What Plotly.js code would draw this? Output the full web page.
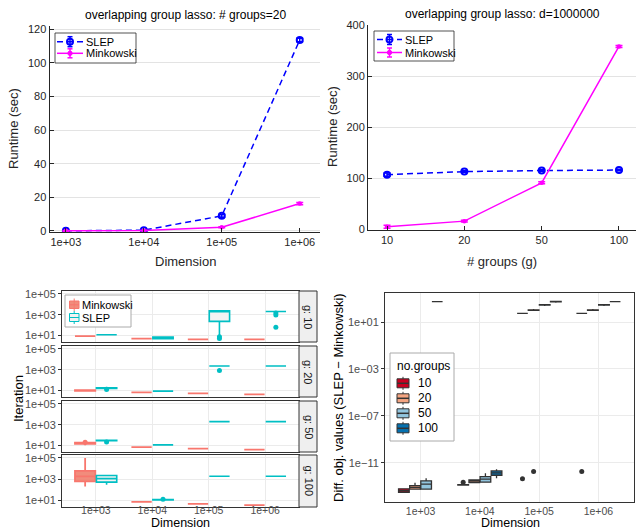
<!DOCTYPE html>
<html><head><meta charset="utf-8">
<script src="https://cdn.plot.ly/plotly-3.0.1.min.js"></script>
<style>html,body{margin:0;padding:0;background:#fff}#chart{width:637px;height:531px}</style>
</head><body><div id="chart"></div>
<script>
// ---------- Top-left: runtime vs dimension (# groups = 20) ----------
const dimLabels = ['1e+03','1e+04','1e+05','1e+06'];
const slepRuntimeDim = [0.1, 0.5, 9.0, 113.5];
const slepRuntimeDimErr = [0.3, 0.3, 0.8, 1.0];
const minkRuntimeDim = [0.1, 0.3, 2.2, 16.3];
const minkRuntimeDimErr = [0.2, 0.2, 0.3, 0.7];
// ---------- Top-right: runtime vs # groups (d = 1e6) ----------
const groupLabels = ['10','20','50','100'];
const slepRuntimeG = [107, 113, 115, 116];
const slepRuntimeGErr = [3, 1.5, 1.5, 1.5];
const minkRuntimeG = [5, 16, 91, 358];
const minkRuntimeGErr = [3, 1.5, 2, 2];
// ---------- Bottom-left: log10(iterations), rows g=10,20,50,100; cols dim 1e3..1e6 ----------
const facetLabels = ['g: 10','g: 20','g: 50','g: 100'];
const minkMed = [[0.94,0.69,0.62,0.62],[1.00,0.81,0.71,0.62],[1.22,0.84,0.69,0.59],[3.27,0.86,0.67,0.54]];
const minkQ1  = [[0.94,0.69,0.62,0.62],[0.97,0.81,0.71,0.62],[1.16,0.84,0.69,0.59],[2.79,0.86,0.67,0.54]];
const minkQ3  = [[0.94,0.69,0.62,0.62],[1.03,0.81,0.71,0.62],[1.28,0.84,0.69,0.59],[3.79,0.86,0.67,0.54]];
const minkLo  = [[0.94,0.69,0.62,0.62],[0.90,0.81,0.71,0.62],[1.02,0.84,0.69,0.59],[2.30,0.86,0.67,0.54]];
const minkHi  = [[0.94,0.69,0.62,0.62],[1.12,0.81,0.71,0.62],[1.42,0.84,0.69,0.59],[5.00,0.86,0.67,0.54]];
const slepMed = [[1.07,0.77,3.38,3.31],[1.23,0.94,3.36,3.36],[1.48,1.06,3.29,3.29],[3.05,1.06,3.27,3.27]];
const slepQ1  = [[1.07,0.69,2.36,3.31],[1.20,0.94,3.36,3.36],[1.46,1.06,3.29,3.29],[2.72,1.04,3.27,3.27]];
const slepQ3  = [[1.07,0.85,3.38,3.31],[1.26,0.94,3.36,3.36],[1.50,1.06,3.29,3.29],[3.34,1.08,3.27,3.27]];
const slepLo  = [[1.07,0.69,0.85,3.31],[1.05,0.94,3.36,3.36],[1.46,1.06,3.29,3.29],[2.46,0.98,3.27,3.27]];
const slepHi  = [[1.07,0.85,3.38,3.31],[1.35,0.94,3.36,3.36],[1.50,1.06,3.29,3.29],[3.34,1.14,3.27,3.27]];
const slepOutRow = [0, 0, 0, 0, 0, 1, 1, 2, 3];
const slepOutDim = [3, 3, 4, 4, 4, 1, 3, 1, 2];
const slepOutLog = [0.88, 0.70, 3.16, 2.97, 1.79, 1.10, 2.91, 1.33, 1.10];
const minkOutRow = [2];
const minkOutDim = [1];
const minkOutLog = [1.30];
// ---------- Bottom-right: log10(SLEP - Minkowski objective), by no.groups ----------
const groupNames = ['10','20','50','100'];
const diffMed = [[-13.36,-12.87,1.74,1.74],[-13.09,-12.56,2.02,2.02],[-12.81,-12.39,2.45,2.45],[2.73,-11.85,2.73,2.73]];
const diffQ1  = [[-13.50,-12.89,1.74,1.74],[-13.24,-12.68,2.00,2.00],[-13.24,-12.64,2.43,2.43],[2.73,-12.05,2.71,2.73]];
const diffQ3  = [[-13.21,-12.85,1.74,1.74],[-12.93,-12.45,2.04,2.04],[-12.53,-12.17,2.47,2.47],[2.73,-11.68,2.75,2.73]];
const diffLo  = [[-13.53,-12.89,1.74,1.74],[-13.24,-12.68,1.94,1.94],[-13.24,-12.64,2.37,2.37],[2.73,-12.30,2.65,2.73]];
const diffHi  = [[-13.15,-12.85,1.74,1.74],[-12.68,-12.45,2.10,2.10],[-12.30,-11.88,2.53,2.53],[2.73,-11.54,2.81,2.73]];
const diffOutGroup = [0, 0, 0, 1];
const diffOutDim = [2, 3, 4, 3];
const diffOutLog = [-12.64, -12.34, -11.74, -11.74];

const FONT = 'Liberation Sans, Arial, Helvetica, sans-serif';
const W = 637, H = 531;
const X = p => p / W, Y = p => 1 - p / H;
const pow = a => a.map(v => Math.pow(10, v));
const dims = [1, 2, 3, 4];
const BLUE = '#0000FF', MAG = '#FF00FF';
const MINK = '#F8766D', SLEP = '#00BFC4';
const groupFill = ['#CA0020', '#F4A582', '#92C5DE', '#0571B0'];

const traces = [];
// top-left
traces.push({type:'scatter', mode:'lines+markers', x:dims, y:slepRuntimeDim, xaxis:'x', yaxis:'y',
  line:{color:BLUE, width:1.5, dash:'6px,4px'}, marker:{symbol:'circle-open', size:6, color:BLUE, line:{width:2}},
  error_y:{type:'data', array:slepRuntimeDimErr, color:BLUE, thickness:1.5, width:3.5}, showlegend:false, hoverinfo:'skip'});
traces.push({type:'scatter', mode:'lines+markers', x:dims, y:minkRuntimeDim, xaxis:'x', yaxis:'y',
  line:{color:MAG, width:1.5}, marker:{symbol:'circle', size:4.5, color:MAG},
  error_y:{type:'data', array:minkRuntimeDimErr, color:MAG, thickness:1.5, width:3.5}, showlegend:false, hoverinfo:'skip'});
// top-right
traces.push({type:'scatter', mode:'lines+markers', x:dims, y:slepRuntimeG, xaxis:'x2', yaxis:'y2',
  line:{color:BLUE, width:1.5, dash:'6px,4px'}, marker:{symbol:'circle-open', size:6, color:BLUE, line:{width:2}},
  error_y:{type:'data', array:slepRuntimeGErr, color:BLUE, thickness:1.5, width:3.5}, showlegend:false, hoverinfo:'skip'});
traces.push({type:'scatter', mode:'lines+markers', x:dims, y:minkRuntimeG, xaxis:'x2', yaxis:'y2',
  line:{color:MAG, width:1.5}, marker:{symbol:'circle', size:4.5, color:MAG},
  error_y:{type:'data', array:minkRuntimeGErr, color:MAG, thickness:1.5, width:3.5}, showlegend:false, hoverinfo:'skip'});

// bottom-left facets
for (let r = 0; r < 4; r++) {
  const xa = 'x' + (3 + r), ya = 'y' + (3 + r);
  traces.push({type:'box', xaxis:xa, yaxis:ya, x:dims.map(d => d - 0.19),
    q1:pow(minkQ1[r]), median:pow(minkMed[r]), q3:pow(minkQ3[r]), lowerfence:pow(minkLo[r]), upperfence:pow(minkHi[r]),
    width:0.36, fillcolor:'rgba(240,128,110,0.9)', line:{color:MINK, width:1.8}, whiskerwidth:0, boxpoints:false, showlegend:false, hoverinfo:'skip'});
  traces.push({type:'box', xaxis:xa, yaxis:ya, x:dims.map(d => d + 0.19),
    q1:pow(slepQ1[r]), median:pow(slepMed[r]), q3:pow(slepQ3[r]), lowerfence:pow(slepLo[r]), upperfence:pow(slepHi[r]),
    width:0.36, fillcolor:'rgba(242,242,242,0.95)', line:{color:SLEP, width:1.6}, whiskerwidth:0, boxpoints:false, showlegend:false, hoverinfo:'skip'});
  const si = slepOutRow.map((v, i) => v === r ? i : -1).filter(i => i >= 0);
  if (si.length) traces.push({type:'scatter', mode:'markers', xaxis:xa, yaxis:ya,
    x:si.map(i => slepOutDim[i] + 0.19), y:si.map(i => Math.pow(10, slepOutLog[i])),
    marker:{color:SLEP, size:5}, showlegend:false, hoverinfo:'skip'});
  const mi = minkOutRow.map((v, i) => v === r ? i : -1).filter(i => i >= 0);
  if (mi.length) traces.push({type:'scatter', mode:'markers', xaxis:xa, yaxis:ya,
    x:mi.map(i => minkOutDim[i] - 0.19), y:mi.map(i => Math.pow(10, minkOutLog[i])),
    marker:{color:MINK, size:5}, showlegend:false, hoverinfo:'skip'});
}
// bottom-right
const gOff = [-0.28125, -0.09375, 0.09375, 0.28125];
for (let g = 0; g < 4; g++) {
  traces.push({type:'box', xaxis:'x7', yaxis:'y7', x:dims.map(d => d + gOff[g]),
    q1:pow(diffQ1[g]), median:pow(diffMed[g]), q3:pow(diffQ3[g]), lowerfence:pow(diffLo[g]), upperfence:pow(diffHi[g]),
    width:0.18, fillcolor:groupFill[g], line:{color:'#333333', width:1.3}, whiskerwidth:0, boxpoints:false, showlegend:false, hoverinfo:'skip'});
}
traces.push({type:'scatter', mode:'markers', xaxis:'x7', yaxis:'y7',
  x:diffOutDim.map((d, i) => d + gOff[diffOutGroup[i]]), y:pow(diffOutLog),
  marker:{color:'#333333', size:5}, showlegend:false, hoverinfo:'skip'});

// ---------- layout ----------
const mlFont = {family:FONT, size:11, color:'#262626'};
const ggFont = {family:FONT, size:11, color:'#4D4D4D'};
const ggFontX = {family:FONT, size:10.5, color:'#4D4D4D'};
const layout = {width:W, height:H, margin:{l:0, r:0, t:0, b:0}, paper_bgcolor:'#fff', plot_bgcolor:'rgba(0,0,0,0)',
  showlegend:false, font:{family:FONT},
  xaxis:{domain:[X(49.5), X(320)], range:[0.79, 4.26], type:'linear', tickvals:dims, ticktext:dimLabels, ticks:'inside', ticklen:4,
    tickcolor:'#262626', showline:true, linecolor:'#262626', linewidth:1, showgrid:false, zeroline:false, anchor:'y', tickfont:mlFont, fixedrange:true},
  yaxis:{domain:[Y(232), Y(26)], range:[-0.6, 121.8], tickvals:[0,20,40,60,80,100,120], ticks:'inside', ticklen:4, tickcolor:'#262626',
    showline:true, linecolor:'#262626', linewidth:1, showgrid:true, gridcolor:'#E3E3E3', zeroline:false, anchor:'x', tickfont:mlFont, fixedrange:true},
  xaxis2:{domain:[X(368), X(636)], range:[0.754, 4.22], type:'linear', tickvals:dims, ticktext:groupLabels, ticks:'inside', ticklen:4,
    tickcolor:'#262626', showline:true, linecolor:'#262626', linewidth:1, showgrid:false, zeroline:false, anchor:'y2', tickfont:mlFont, fixedrange:true},
  yaxis2:{domain:[Y(230), Y(25)], range:[-1.37, 400], tickvals:[0,100,200,300,400], ticks:'inside', ticklen:4, tickcolor:'#262626',
    showline:true, linecolor:'#262626', linewidth:1, showgrid:true, gridcolor:'#E3E3E3', zeroline:false, anchor:'x2', tickfont:mlFont, fixedrange:true},
  xaxis7:{domain:[X(385), X(634)], range:[0.4, 4.6], type:'linear', tickvals:dims, ticktext:dimLabels, ticks:'', ticklen:0,
    tickcolor:'#333', showline:true, mirror:true, linecolor:'#333', linewidth:1, showgrid:true, gridcolor:'#EBEBEB', zeroline:false,
    anchor:'y7', tickfont:ggFontX, ticklabelstandoff:-1, fixedrange:true},
  yaxis7:{domain:[Y(502), Y(293)], type:'log', range:[-14.33, 3.47], tickvals:[1e1, 1e-3, 1e-7, 1e-11], ticktext:['1e+01','1e\u221203','1e\u221207','1e\u221211'],
    ticks:'outside', ticklen:3, tickcolor:'#333', showline:true, mirror:true, linecolor:'#333', linewidth:1, showgrid:true, gridcolor:'#EBEBEB',
    zeroline:false, anchor:'x7', tickfont:ggFont, fixedrange:true},
  shapes:[], annotations:[]
};
const rows = [[291, 342], [346, 397], [401, 452], [455, 507]];
for (let r = 0; r < 4; r++) {
  layout['xaxis' + (3 + r)] = {domain:[X(62), X(299)], range:[0.4, 4.6], type:'linear', tickvals:dims, ticktext:dimLabels,
    showticklabels:r === 3, ticks:'', ticklen:0, tickcolor:'#333', showline:true, mirror:true, linecolor:'#333',
    linewidth:1, showgrid:true, gridcolor:'#EBEBEB', zeroline:false, anchor:'y' + (3 + r), tickfont:ggFontX, ticklabelstandoff:-7, fixedrange:true};
  layout['yaxis' + (3 + r)] = {domain:[Y(rows[r][1]), Y(rows[r][0])], type:'log', range:[0.37, 5.28], tickvals:[10, 1000, 100000],
    ticktext:['1e+01', '1e+03', '1e+05'], ticks:'outside', ticklen:3, tickcolor:'#333', showline:true, mirror:true, linecolor:'#333',
    linewidth:1, showgrid:true, gridcolor:'#EBEBEB', zeroline:false, anchor:'x' + (3 + r), tickfont:ggFont, fixedrange:true};
}

const S = layout.shapes, A = layout.annotations;
function ann(text, x, y, o) {
  o = o || {};
  A.push({text:text, x:X(x), y:Y(y), xref:'paper', yref:'paper', showarrow:false,
    xanchor:o.xa || 'center', yanchor:o.ya || 'middle', textangle:o.angle || 0,
    font:{family:FONT, size:o.size || 11, color:o.color || '#000'}});
}
function rect(x0, y0, x1, y1, fill, line, lw, dash) {
  S.push({type:'rect', xref:'paper', yref:'paper', x0:X(x0), x1:X(x1), y0:Y(y1), y1:Y(y0), fillcolor:fill,
    line:{color:line, width:lw === undefined ? 1 : lw, dash:dash || 'solid'}, layer:'above'});
}
function seg(x0, y0, x1, y1, color, lw, dash) {
  S.push({type:'line', xref:'paper', yref:'paper', x0:X(x0), x1:X(x1), y0:Y(y0), y1:Y(y1),
    line:{color:color, width:lw || 1, dash:dash || 'solid'}, layer:'above'});
}
function circ(cx, cy, r, fill, line, lw) {
  S.push({type:'circle', xref:'paper', yref:'paper', x0:X(cx - r), x1:X(cx + r), y0:Y(cy + r), y1:Y(cy - r),
    fillcolor:fill, line:{color:line, width:lw || 1}, layer:'above'});
}

// titles & axis titles (top)
ann('overlapping group lasso: # groups=20', 185, 15, {size:12});
ann('overlapping group lasso: d=1000000', 502, 14, {size:12});
ann('Runtime (sec)', 13, 129, {size:13, angle:-90, color:'#262626'});
ann('Runtime (sec)', 332, 127, {size:13, angle:-90, color:'#262626'});
ann('Dimension', 185, 261, {size:13, color:'#262626'});
ann('# groups (g)', 502, 261, {size:13, color:'#262626'});
// bottom titles
ann('Iteration', 18, 399, {size:13, angle:-90});
ann('Dimension', 181, 532, {size:12.5, ya:'bottom'});
ann('Dimension', 510, 532, {size:12.5, ya:'bottom'});
ann('Diff. obj. values (SLEP \u2212 Minkowski)', 338, 398, {size:13, angle:-90});

// strips
for (let r = 0; r < 4; r++) {
  rect(299, rows[r][0], 317, rows[r][1], '#EFEFEF', '#333', 1);
  ann(facetLabels[r], 308.5, (rows[r][0] + rows[r][1]) / 2, {angle:90, size:11, color:'#1A1A1A'});
}

// Matlab legends
function mlLegend(bx0, by0, bx1, by1, ySlep, yMink, lx0, lx1, tx) {
  rect(bx0, by0, bx1, by1, '#FFFFFF', '#262626', 0.8);
  const cx = (lx0 + lx1) / 2;
  seg(lx0, ySlep, lx1, ySlep, BLUE, 1.5, '6px,4px');
  seg(cx, ySlep - 5, cx, ySlep + 5, BLUE, 1.5);
  seg(cx - 2.5, ySlep - 5, cx + 2.5, ySlep - 5, BLUE, 1.5);
  seg(cx - 2.5, ySlep + 5, cx + 2.5, ySlep + 5, BLUE, 1.5);
  circ(cx, ySlep, 3, 'rgba(255,255,255,0)', BLUE, 2);
  ann('SLEP', tx, ySlep, {xa:'left', size:11});
  seg(lx0, yMink, lx1, yMink, MAG, 1.5);
  seg(cx, yMink - 4.5, cx, yMink + 4.5, MAG, 1.5);
  seg(cx - 2.5, yMink - 4.5, cx + 2.5, yMink - 4.5, MAG, 1.5);
  seg(cx - 2.5, yMink + 4.5, cx + 2.5, yMink + 4.5, MAG, 1.5);
  circ(cx, yMink, 2.2, MAG, MAG, 1);
  ann('Minkowski', tx, yMink, {xa:'left', size:11});
}
mlLegend(55, 33, 136, 63, 41.7, 53.3, 57, 83, 84);
mlLegend(374, 31, 454, 61, 39.5, 52.5, 377, 402, 403);

// ggplot legend (bottom-left)
rect(65, 295, 131, 327, '#FFFFFF', '#AAAAAA', 1);
seg(74.2, 298.5, 74.2, 311, MINK, 1);
rect(69.5, 301, 79, 308.5, 'rgba(240,128,110,0.9)', MINK, 1);
seg(69.5, 304.8, 79, 304.8, MINK, 1);
seg(74.2, 311, 74.2, 324, SLEP, 1);
rect(69.5, 313.5, 79, 321.5, '#F2F2F2', SLEP, 1);
seg(69.5, 317.5, 79, 317.5, SLEP, 1);
ann('Minkowski', 79.5, 305, {xa:'left', size:11});
ann('SLEP', 79.5, 318, {xa:'left', size:11});

// ggplot legend (bottom-right)
rect(390, 353, 454, 441, '#FFFFFF', '#AAAAAA', 1);
ann('no.groups', 394.5, 365.5, {xa:'left', size:12});
const keyY = [383.3, 398.3, 413.3, 428.3];
for (let g = 0; g < 4; g++) {
  seg(403, keyY[g] - 6.5, 403, keyY[g] + 6.5, '#333', 1);
  rect(397, keyY[g] - 4.5, 409, keyY[g] + 4.5, groupFill[g], '#333', 1);
  seg(397, keyY[g], 409, keyY[g], '#333', 1.5);
  ann(groupNames[g], 416, keyY[g], {xa:'left', size:12});
}

Plotly.newPlot('chart', traces, layout, {staticPlot:true, displayModeBar:false});
</script>
</body></html>
